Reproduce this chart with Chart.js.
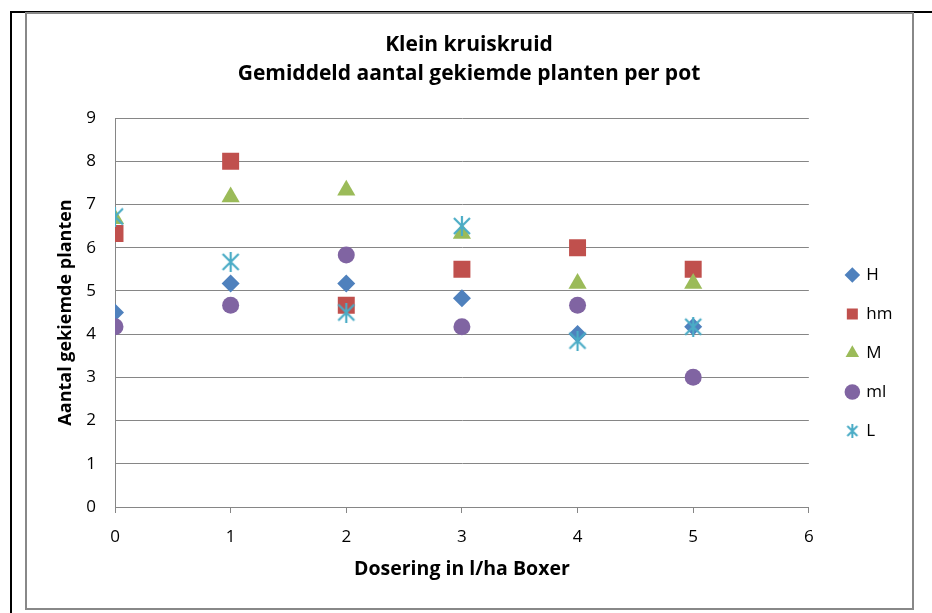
<!DOCTYPE html>
<html>
<head>
<meta charset="utf-8">
<title>Klein kruiskruid</title>
<script src="https://cdn.jsdelivr.net/npm/chart.js@4.4.1/dist/chart.umd.min.js"></script>
<style>
  html, body { margin: 0; padding: 0; background: #fff; }
  canvas { display: block; }
</style>
</head>
<body>
<canvas id="chart" width="932" height="613"></canvas>
<script>
// chart data
const doses = [0, 1, 2, 3, 4, 5];
const seriesNames = ['H', 'hm', 'M', 'ml', 'L'];
const valuesH = [4.5, 5.17, 5.17, 4.83, 4.0, 4.17];
const valuesHm = [6.33, 8.0, 4.67, 5.5, 6.0, 5.5];
const valuesM = [6.67, 7.17, 7.33, 6.33, 5.17, 5.17];
const valuesMl = [4.17, 4.67, 5.83, 4.17, 4.67, 3.0];
const valuesL = [6.72, 5.67, 4.5, 6.5, 3.85, 4.17];
const yTicks = [0, 1, 2, 3, 4, 5, 6, 7, 8, 9];
const xTicks = [0, 1, 2, 3, 4, 5, 6];

const FONT = '"Open Sans", Lato, sans-serif';
const GRID = '#868686';

// Excel style asterisk marker (x with a vertical bar)
function asterisk(size, color, width) {
  const c = document.createElement('canvas');
  c.width = size;
  c.height = size;
  const g = c.getContext('2d');
  g.strokeStyle = color;
  g.lineWidth = width;
  const m = size / 2, e = 2;
  g.beginPath();
  g.moveTo(m, 0); g.lineTo(m, size);
  g.moveTo(e, e); g.lineTo(size - e, size - e);
  g.moveTo(size - e, e); g.lineTo(e, size - e);
  g.stroke();
  return c;
}

function toPoints(vals) {
  return vals.map((v, i) => ({ x: doses[i], y: v }));
}

const colors = ['#4F81BD', '#C0504D', '#9BBB59', '#8064A2', '#4BACC6'];
const styles = ['rectRot', 'rect', 'triangle', 'circle', asterisk(20, colors[4], 2.2)];
const radii = [9, 12, 10.5, 8.5, 10];
const allValues = [valuesH, valuesHm, valuesM, valuesMl, valuesL];
const legendStar = asterisk(14, colors[4], 2);

const datasets = seriesNames.map((name, i) => ({
  label: name,
  data: toPoints(allValues[i]),
  backgroundColor: colors[i],
  borderColor: colors[i],
  pointBackgroundColor: colors[i],
  pointBorderColor: colors[i],
  pointBorderWidth: 0,
  pointStyle: styles[i],
  pointRadius: radii[i],
  pointHoverRadius: radii[i],
  showLine: false,
  order: seriesNames.length - i   // later series on top, like Excel
}));

// outer frame lines of the pasted picture
const framePlugin = {
  id: 'frame',
  beforeDraw(chart) {
    const ctx = chart.ctx;
    ctx.save();
    ctx.fillStyle = '#fff';
    ctx.fillRect(0, 0, chart.width, chart.height);
    ctx.restore();
  },
  afterDraw(chart) {
    const ctx = chart.ctx;
    ctx.save();
    ctx.strokeStyle = '#000';
    ctx.lineWidth = 2;
    ctx.beginPath();
    ctx.moveTo(11, 613); ctx.lineTo(11, 12); ctx.lineTo(932, 12);
    ctx.stroke();
    ctx.strokeStyle = '#888';
    ctx.strokeRect(26, 13, 887, 596);
    ctx.restore();
  }
};

new Chart(document.getElementById('chart'), {
  type: 'scatter',
  data: { datasets },
  plugins: [framePlugin],
  options: {
    responsive: false,
    animation: false,
    layout: { padding: { top: 0, left: 35.5, right: 29.5, bottom: 32 } },
    plugins: {
      tooltip: { enabled: false },
      title: {
        display: true,
        text: ['Klein kruiskruid', 'Gemiddeld aantal gekiemde planten per pot'],
        color: '#000',
        font: { family: FONT, size: 21, weight: 'bold', lineHeight: '29px' },
        padding: { top: 31, bottom: 29 }
      },
      legend: {
        position: 'right',
        fullSize: false,
        title: { display: true, text: ' ', font: { size: 10 }, padding: { top: 69, bottom: 0 } },
        labels: {
          usePointStyle: true,
          boxWidth: 11,
          boxHeight: 11,
          padding: 22,
          color: '#000',
          font: { family: FONT, size: 17 },
          sort: (a, b) => a.datasetIndex - b.datasetIndex,
          generateLabels(chart) {
            const items = Chart.defaults.plugins.legend.labels.generateLabels(chart);
            items.forEach(it => {
              if (it.datasetIndex === 4) it.pointStyle = legendStar;
              it.lineWidth = 0;
            });
            return items;
          }
        }
      }
    },
    scales: {
      x: {
        type: 'linear',
        min: xTicks[0],
        max: xTicks[xTicks.length - 1],
        afterBuildTicks(scale) { scale.ticks = xTicks.map(v => ({ value: v })); },
        afterFit(scale) { scale.height = 74; },
        border: { color: GRID, width: 1 },
        grid: { drawOnChartArea: false, drawTicks: true, tickLength: 6, color: GRID },
        ticks: { color: '#000', padding: 14, font: { family: FONT, size: 17 } },
        title: {
          display: true,
          text: 'Dosering in l/ha Boxer',
          color: '#000',
          font: { family: FONT, size: 19.5, weight: 'bold' },
          padding: { top: 0, bottom: 0 }
        }
      },
      y: {
        type: 'linear',
        min: yTicks[0],
        max: yTicks[yTicks.length - 1],
        afterBuildTicks(scale) { scale.ticks = yTicks.map(v => ({ value: v })); },
        afterFit(scale) { scale.width = 79.5; },
        border: { color: GRID, width: 1 },
        grid: { color: GRID, drawTicks: false },
        ticks: { color: '#000', padding: 19, font: { family: FONT, size: 17 } },
        title: {
          display: true,
          text: 'Aantal gekiemde planten',
          color: '#000',
          font: { family: FONT, size: 18, weight: 'bold' },
          padding: { top: 20, bottom: 0 }
        }
      },
      gap: {
        type: 'linear',
        position: 'right',
        display: true,
        grid: { display: false },
        border: { display: false },
        ticks: { display: false },
        afterFit(scale) { scale.width = 16; }
      }
    }
  }
});
</script>
</body>
</html>
